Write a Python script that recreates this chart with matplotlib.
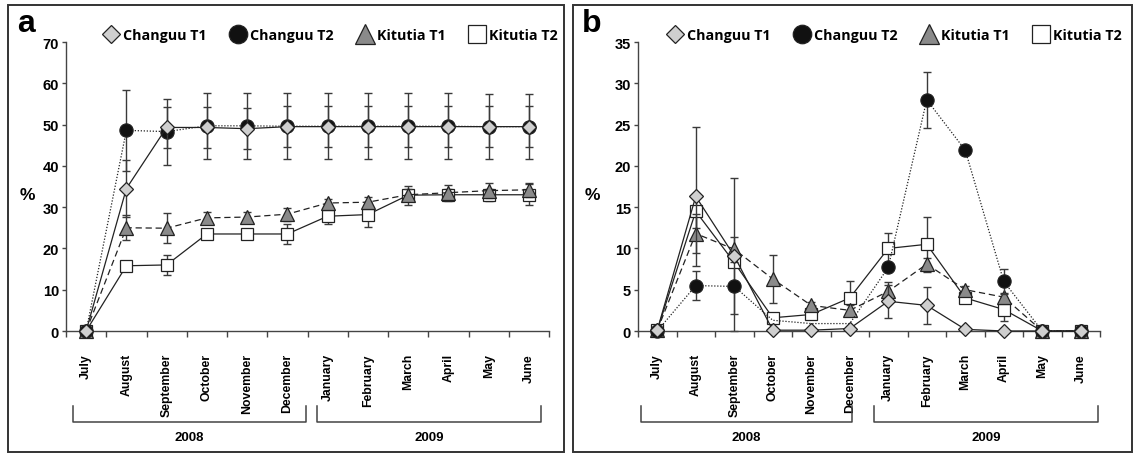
import matplotlib
matplotlib.use("Agg")
import matplotlib.pyplot as plt
from matplotlib.lines import Line2D
from matplotlib.patches import Rectangle
import numpy as np

months = ["July", "August", "September", "October", "November", "December",
          "January", "February", "March", "April", "May", "June"]
series_names = ["Changuu T1", "Changuu T2", "Kitutia T1", "Kitutia T2"]

# panel a
a_changuu_t1 = [0, 34.5, 49.3, 49.3, 49.0, 49.5, 49.5, 49.5, 49.5, 49.5, 49.5, 49.5]
a_changuu_t1_err = [0, 6.8, 4.9, 5.0, 5.0, 5.0, 5.0, 5.0, 5.0, 5.0, 5.0, 5.0]
a_changuu_t2 = [0, 48.6, 48.3, 49.7, 49.7, 49.6, 49.6, 49.6, 49.6, 49.6, 49.5, 49.5]
a_changuu_t2_err = [0, 9.8, 8.0, 8.0, 8.0, 8.0, 8.0, 8.0, 8.0, 8.0, 7.9, 7.9]
a_kitutia_t1 = [0, 25.0, 24.9, 27.4, 27.6, 28.3, 31.0, 31.2, 33.0, 33.5, 34.0, 34.2]
a_kitutia_t1_err = [0, 3.0, 3.6, 1.4, 1.2, 1.6, 1.0, 1.2, 1.5, 1.8, 1.8, 1.7]
a_kitutia_t2 = [0, 15.8, 16.0, 23.5, 23.5, 23.5, 27.8, 28.2, 32.9, 33.0, 33.0, 33.0]
a_kitutia_t2_err = [0, 0.5, 2.4, 0, 0, 2.5, 1.8, 3.0, 2.3, 1.5, 1.5, 2.5]

# panel b
b_changuu_t1 = [0.1, 16.3, 9.1, 0.1, 0.1, 0.3, 3.6, 3.1, 0.2, 0.0, 0.0, 0.0]
b_changuu_t1_err = [0, 8.4, 0, 0, 0, 0, 2.0, 2.2, 0, 0, 0, 0]
b_changuu_t2 = [0.0, 5.5, 5.4, 1.3, 0.9, 0.9, 7.7, 28.0, 21.9, 6.0, 0.0, 0.0]
b_changuu_t2_err = [0, 1.8, 3.3, 0, 0, 0, 0, 3.4, 0, 1.5, 0, 0]
b_kitutia_t1 = [0.1, 11.8, 9.9, 6.3, 3.1, 2.5, 4.8, 8.1, 5.0, 4.1, 0.0, 0.0]
b_kitutia_t1_err = [0, 2.4, 1.5, 2.85, 0.4, 0.6, 1.1, 0.8, 0.4, 0.5, 0, 0]
b_kitutia_t2 = [0.1, 14.5, 8.3, 1.6, 2.0, 4.0, 10.0, 10.5, 4.0, 2.6, 0.0, 0.0]
b_kitutia_t2_err = [0, 2.0, 10.2, 0, 0, 2.0, 1.9, 3.3, 0, 1.4, 0, 0]
# months where a marker is hidden in panel b (Changuu T2, Oct-Dec)
b_changuu_t2_hidden = [3, 4, 5]

years = ["2008", "2009"]

styles = {
    "Changuu T1": dict(marker="D", ms=6.8, mfc="#cfcfcf", ls="-"),
    "Changuu T2": dict(marker="o", ms=9.5, mfc="#111111", ls=(0, (1, 1.4))),
    "Kitutia T1": dict(marker="^", ms=10, mfc="#8a8a8a", ls=(0, (5, 3))),
    "Kitutia T2": dict(marker="s", ms=9, mfc="white", ls="-"),
}
draw_order = ["Kitutia T2", "Kitutia T1", "Changuu T2", "Changuu T1"]

W, H = 1135, 456
fig = plt.figure(figsize=(W / 100, H / 100), dpi=100)
plt.rcParams["font.family"] = ["Liberation Sans", "DejaVu Sans"]


def fx(px):
    return px / W


def fy(py):
    return 1 - py / H


def draw_panel(ax, data, ymax, ystep, letter, legend_x, frame, brackets,
               hidden=None):
    hidden = hidden or {}
    x = np.arange(len(months))
    for z, name in enumerate(draw_order):
        vals, errs = data[name]
        vals = np.array(vals, dtype=float)
        errs = np.array(errs, dtype=float)
        st = styles[name]
        every = [i for i in x if i not in hidden.get(name, [])]
        ax.plot(x, vals, color="#222222", lw=0.9, ls=st["ls"], zorder=3 + z,
                clip_on=False, marker=st["marker"], ms=st["ms"], mfc=st["mfc"],
                mec="#222222", mew=0.9, markevery=every)
        m = errs > 0
        lower = np.minimum(errs, vals)
        ax.errorbar(x[m], vals[m], yerr=[lower[m], errs[m]], fmt="none",
                    ecolor="#3a3a3a", elinewidth=1.0, capsize=3, capthick=1.0,
                    zorder=2 + z, clip_on=False)

    ax.set_xlim(-0.5, len(months) - 0.5)
    ax.set_ylim(0, ymax)
    ticks = np.arange(0, ymax + 0.1, ystep)
    ax.set_yticks(ticks)
    ax.set_yticklabels([f"{int(v)}" for v in ticks], fontsize=10.5,
                       fontweight="bold")
    ax.set_xticks(x)
    ax.set_xticklabels(months, rotation=90, fontsize=8.8, fontweight="bold",
                       va="top", ha="center")
    ax.set_xticks(np.arange(-0.5, len(months)), minor=True)
    ax.tick_params(axis="x", which="major", length=0, pad=16)
    ax.tick_params(axis="x", which="minor", length=4, width=1, color="#444444",
                   direction="out")
    ax.tick_params(axis="y", length=3, width=1, color="#444444", pad=2)
    for s in ["top", "right"]:
        ax.spines[s].set_visible(False)
    for s in ["left", "bottom"]:
        ax.spines[s].set_color("#444444")
        ax.spines[s].set_linewidth(1.0)

    # frame around the panel
    fig.add_artist(Rectangle((fx(frame[0]), fy(frame[3])),
                             fx(frame[2] - frame[0]), (frame[3] - frame[1]) / H,
                             transform=fig.transFigure, fill=False,
                             ec="#333333", lw=1.4))
    fig.text(fx(frame[0] + 9), fy(frame[1] + 3), letter, fontsize=23,
             fontweight="bold", ha="left", va="top")
    fig.text(fx(frame[0] + 19), fy(196), "%", fontsize=12.5, fontweight="bold",
             ha="center", va="center")

    handles = [Line2D([], [], ls="none", marker=styles[n]["marker"],
                      ms=styles[n]["ms"] * 1.4, mfc=styles[n]["mfc"],
                      mec="#222222", mew=0.9) for n in series_names]
    fig.legend(handles, series_names, loc="center",
               bbox_to_anchor=(fx(legend_x), fy(36)), ncol=4,
               frameon=False, handlelength=1.2, handletextpad=0.25,
               columnspacing=1.6, borderpad=0,
               prop={"family": "Open Sans", "weight": "bold", "size": 10.3})

    # year brackets under the month labels
    for (x0, x1), yr in zip(brackets, years):
        fig.add_artist(Line2D([fx(x0), fx(x0), fx(x1), fx(x1)],
                              [fy(407), fy(423), fy(423), fy(407)],
                              transform=fig.transFigure, color="#444444",
                              lw=1.1))
        fig.text(fx((x0 + x1) / 2), fy(438), yr, fontsize=9.5,
                 fontweight="bold", ha="center", va="center")


ax_a = fig.add_axes([fx(66), fy(332), fx(549 - 66), (332 - 43) / H])
ax_b = fig.add_axes([fx(638), fy(332), fx(1100 - 638), (332 - 43) / H])

data_a = {
    "Changuu T1": (a_changuu_t1, a_changuu_t1_err),
    "Changuu T2": (a_changuu_t2, a_changuu_t2_err),
    "Kitutia T1": (a_kitutia_t1, a_kitutia_t1_err),
    "Kitutia T2": (a_kitutia_t2, a_kitutia_t2_err),
}
data_b = {
    "Changuu T1": (b_changuu_t1, b_changuu_t1_err),
    "Changuu T2": (b_changuu_t2, b_changuu_t2_err),
    "Kitutia T1": (b_kitutia_t1, b_kitutia_t1_err),
    "Kitutia T2": (b_kitutia_t2, b_kitutia_t2_err),
}

draw_panel(ax_a, data_a, 70, 10, "a", 330, (8, 6, 564, 453),
           [(73, 306), (317, 541)])
draw_panel(ax_b, data_b, 35, 5, "b", 894, (573, 6, 1132, 453),
           [(641, 852), (874, 1098)],
           hidden={"Changuu T2": b_changuu_t2_hidden})

fig.savefig("out.png", dpi=100)
